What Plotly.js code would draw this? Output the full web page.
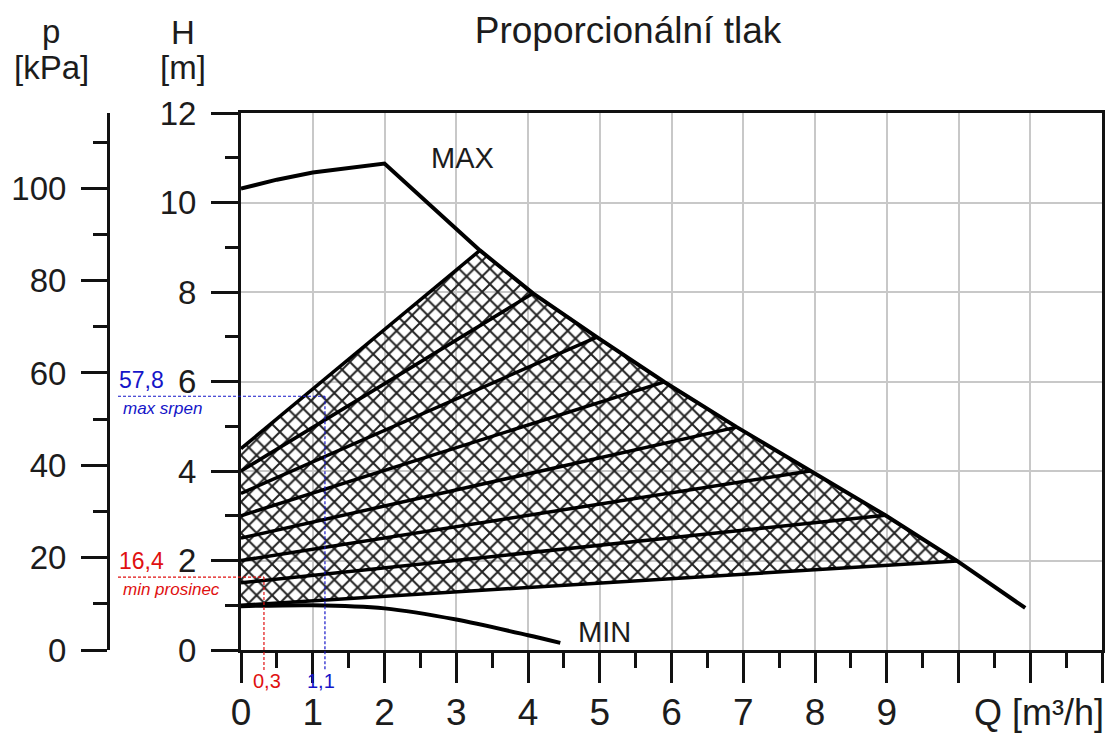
<!DOCTYPE html>
<html>
<head>
<meta charset="utf-8">
<script src="https://cdn.plot.ly/plotly-3.0.1.min.js"></script>
<style>html,body{margin:0;padding:0;background:#fff}#chart{width:1109px;height:735px}</style>
</head>
<body>
<div id="chart"></div>
<script>
// ---- data ----
const maxQ = [0, 0.5, 1, 1.5, 2, 3.33, 4.07, 4.96, 5.9, 6.91, 7.93, 8.98, 9.98, 10.93];
const maxH = [10.31, 10.51, 10.67, 10.78, 10.87, 8.93, 7.97, 6.99, 5.99, 4.98, 4.0, 3.01, 1.99, 0.94];

const minQ = [0, 1, 2, 3, 4, 4.45];
const minH = [0.98, 1.0, 0.93, 0.68, 0.33, 0.16];

// proportional-pressure lines: start at Q=0 (H0), end on MAX curve
const propH0 = [4.5, 4.0, 3.5, 3.0, 2.5, 2.0, 1.5, 1.0];
const propQ1 = [3.33, 4.07, 4.96, 5.9, 6.91, 7.93, 8.98, 9.98];
const propH1 = [8.93, 7.97, 6.99, 5.99, 4.98, 4.0, 3.01, 1.99];

// marked operating points
const markQ = [0.32, 1.17];
const markH = [1.63, 5.67];
const markP = ['16,4', '57,8'];
const markQText = ['0,3', '1,1'];
const markNote = ['min prosinec', 'max srpen'];
const markColor = ['#e01010', '#1515c8'];

// tick labels
const xTickVals = [0,1,2,3,4,5,6,7,8,9,10,11,12];
const xTickText = ['0','1','2','3','4','5','6','7','8','9','','',''];

const titleText = 'Proporcionální tlak';
const xTitle = 'Q [m³/h]';

// ---- layout geometry ----
const W = 1109, Hh = 735;
const mL = 5, mR = 7, mT = 113, mB = 85;
const paperW = W - mL - mR, paperH = Hh - mT - mB;
const plotLeftPx = 241;
const xd0 = (plotLeftPx - mL) / paperW;
const pAxisPos = (108 - mL) / paperW;
const px2paperX = px => (px - mL) / paperW;
const px2paperY = py => (Hh - mB - py) / paperH;
const xRange = [0, 12], yRange = [0, 12], pRange = [0, 116.3];
const plotW = W - mR - plotLeftPx;

const FONT = 'Liberation Sans, Arial, Helvetica, sans-serif';
const TXT = '#1c1c1c';
const AX = '#111';

// ---- traces ----
const nP = propH0.length;
const hatchX = [0, 0].concat(propQ1);
const hatchY = [propH0[nP - 1], propH0[0]].concat(propH1);

const propX = [], propY = [];
for (let i = 0; i < nP; i++) {
  propX.push(0, propQ1[i], null);
  propY.push(propH0[i], propH1[i], null);
}

const traces = [
  {
    x: hatchX, y: hatchY, type: 'scatter', mode: 'lines', fill: 'toself',
    line: {width: 0, color: 'rgba(0,0,0,0)'},
    fillcolor: 'rgba(255,255,255,0)',
    fillpattern: {shape: 'x', size: 11, solidity: 0.33, fgcolor: '#222', bgcolor: 'rgba(255,255,255,0)'},
    hoverinfo: 'skip'
  },
  {x: propX, y: propY, type: 'scatter', mode: 'lines', line: {color: '#000', width: 3.5}, hoverinfo: 'skip'},
  {x: maxQ, y: maxH, type: 'scatter', mode: 'lines', line: {color: '#000', width: 4}, hoverinfo: 'skip'},
  {x: minQ, y: minH, type: 'scatter', mode: 'lines', line: {color: '#000', width: 4, shape: 'spline', smoothing: 0.8}, hoverinfo: 'skip'},
  {x: [0], y: [0], yaxis: 'y2', type: 'scatter', mode: 'markers', marker: {opacity: 0}, hoverinfo: 'skip'}
];

// ---- shapes & annotations for marked points ----
const shapes = [];
const annotations = [];
for (let i = 0; i < markQ.length; i++) {
  const c = markColor[i];
  shapes.push({
    type: 'line', xref: 'x domain', yref: 'y',
    x0: (118 - plotLeftPx) / plotW, x1: (markQ[i] - xRange[0]) / (xRange[1] - xRange[0]),
    y0: markH[i], y1: markH[i],
    line: {color: c, width: 1.2, dash: '3px,2px'}
  });
  shapes.push({
    type: 'line', xref: 'x', yref: 'y domain',
    x0: markQ[i], x1: markQ[i],
    y0: (markH[i] - yRange[0]) / (yRange[1] - yRange[0]), y1: -20 / paperH,
    line: {color: c, width: 1.2, dash: '3px,2px'}
  });
  annotations.push({
    xref: 'x domain', yref: 'y', x: (117 - plotLeftPx) / plotW, y: markH[i],
    xanchor: 'left', yanchor: 'bottom', yshift: 1, showarrow: false,
    text: markP[i], font: {family: FONT, size: 23, color: c}
  });
  annotations.push({
    xref: 'x domain', yref: 'y', x: (121 - plotLeftPx) / plotW, y: markH[i],
    xanchor: 'left', yanchor: 'top', yshift: -1, showarrow: false,
    text: '<i>' + markNote[i] + '</i>', font: {family: FONT, size: 17, color: c}
  });
  annotations.push({
    xref: 'x', yref: 'paper', x: markQ[i], y: px2paperY(694),
    xanchor: 'center', yanchor: 'bottom', xshift: i === 0 ? 3 : -4, showarrow: false,
    text: markQText[i], font: {family: FONT, size: 20, color: c}
  });
}

// curve labels
annotations.push({xref: 'x', yref: 'y', x: 3.09, y: 11.0, text: 'MAX', showarrow: false,
  font: {family: FONT, size: 29, color: TXT}});
annotations.push({xref: 'x', yref: 'y', x: 5.07, y: 0.40, text: 'MIN', showarrow: false,
  font: {family: FONT, size: 29, color: TXT}});

// axis titles
const axTitles = [
  ['p', 51, 31], ['[kPa]', 51, 68], ['H', 183, 32], ['[m]', 183, 68]
];
axTitles.forEach(t => annotations.push({
  xref: 'paper', yref: 'paper', x: px2paperX(t[1]), y: px2paperY(t[2]),
  xanchor: 'center', yanchor: 'middle', text: t[0], showarrow: false,
  font: {family: FONT, size: 33, color: TXT}
}));
annotations.push({
  xref: 'paper', yref: 'paper', x: px2paperX(1039), y: px2paperY(712),
  xanchor: 'center', yanchor: 'middle', text: xTitle, showarrow: false,
  font: {family: FONT, size: 36, color: TXT}
});

const minorCommon = {ticks: 'outside', tickwidth: 3, tickcolor: AX, showgrid: false};

const layout = {
  width: W, height: Hh,
  margin: {l: mL, r: mR, t: mT, b: mB, pad: 0},
  paper_bgcolor: '#fff', plot_bgcolor: '#fff',
  showlegend: false,
  font: {family: FONT, color: TXT, size: 33},
  title: {
    text: titleText, xref: 'container', yref: 'container',
    x: 628 / W, y: 1 - 30 / Hh, xanchor: 'center', yanchor: 'middle',
    font: {family: FONT, size: 37, color: TXT}
  },
  xaxis: {
    domain: [xd0, 1], range: xRange, tickmode: 'array', tickvals: xTickVals, ticktext: xTickText,
    ticks: 'outside', ticklen: 30, tickwidth: 3, tickcolor: AX,
    showline: true, linewidth: 3, linecolor: AX, mirror: true,
    showgrid: true, gridcolor: '#c8c8c8', gridwidth: 2, zeroline: false,
    tickfont: {family: FONT, size: 37, color: TXT}, ticklabelstandoff: -2,
    minor: Object.assign({dtick: 0.5, tick0: 0, ticklen: 15}, minorCommon),
    fixedrange: true
  },
  yaxis: {
    range: yRange, tickmode: 'linear', tick0: 0, dtick: 2,
    ticks: 'outside', ticklen: 27, tickwidth: 3, tickcolor: AX,
    showline: true, linewidth: 3, linecolor: AX, mirror: true,
    showgrid: true, gridcolor: '#c8c8c8', gridwidth: 2, zeroline: false,
    tickfont: {family: FONT, size: 33, color: TXT}, ticklabelstandoff: 8,
    minor: Object.assign({dtick: 1, tick0: 0, ticklen: 13}, minorCommon),
    fixedrange: true
  },
  yaxis2: {
    overlaying: 'y', anchor: 'free', position: pAxisPos, side: 'left',
    range: pRange, tickmode: 'linear', tick0: 0, dtick: 20,
    ticks: 'outside', ticklen: 26, tickwidth: 3, tickcolor: AX,
    showline: true, linewidth: 3, linecolor: AX,
    showgrid: false, zeroline: false,
    tickfont: {family: FONT, size: 33, color: TXT}, ticklabelstandoff: 8,
    minor: Object.assign({dtick: 10, tick0: 0, ticklen: 14}, minorCommon),
    fixedrange: true
  },
  shapes: shapes,
  annotations: annotations
};

Plotly.newPlot('chart', traces, layout, {displayModeBar: false, staticPlot: true});
</script>
</body>
</html>
